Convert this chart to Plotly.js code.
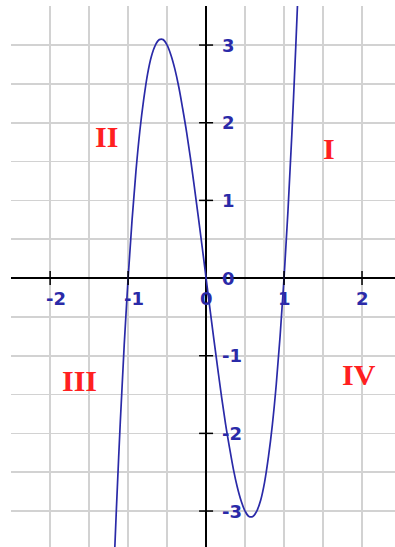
<!DOCTYPE html>
<html>
<head>
<meta charset="utf-8">
<script src="https://cdn.plot.ly/plotly-3.0.1.min.js"></script>
<style>
  html, body { margin: 0; padding: 0; background: #fff; }
  #chart { width: 395px; height: 547px; }
</style>
</head>
<body>
<div id="chart"></div>
<script>
// Points along the cubic curve (x, y)
const curveX = [-1.18, -1.15, -1.1, -1.05, -1.0, -0.95, -0.9, -0.85, -0.8, -0.75, -0.7, -0.65, -0.6, -0.55, -0.5,
  -0.45, -0.4, -0.35, -0.3, -0.25, -0.2, -0.15, -0.1, -0.05, 0, 0.05, 0.1, 0.15, 0.2, 0.25, 0.3, 0.35, 0.4,
  0.45, 0.5, 0.55, 0.6, 0.65, 0.7, 0.75, 0.8, 0.85, 0.9, 0.95, 1.0, 1.05, 1.1, 1.15, 1.18];
const curveY = [-3.70, -2.97, -1.85, -0.86, 0, 0.74, 1.37, 1.89, 2.30, 2.63, 2.86, 3.00, 3.07, 3.07, 3.00,
  2.87, 2.69, 2.46, 2.18, 1.88, 1.54, 1.17, 0.79, 0.40, 0, -0.40, -0.79, -1.17, -1.54, -1.88, -2.18, -2.46, -2.69,
  -2.87, -3.00, -3.07, -3.07, -3.00, -2.86, -2.63, -2.30, -1.89, -1.37, -0.74, 0, 0.86, 1.85, 2.97, 3.70];

// Axis ticks and their labels
const xTickVals = [-2, -1, 0, 1, 2];
const xTickText = ["-2", "-1", "0", "1", "2"];
const yTickVals = [-3, -2, -1, 0, 1, 2, 3];
const yTickText = ["-3", "-2", "-1", "0", "1", "2", "3"];

// Quadrant names and where they sit
const quadNames = ["I", "II", "III", "IV"];
const quadX = [1.574, -1.276, -1.62, 1.967];
const quadY = [1.674, 1.822, -1.313, -1.236];

const blue = "#2a2aa8";
const labelFont = { family: "DejaVu Sans", size: 18, color: blue, weight: "bold" };

const shapes = [];
xTickVals.forEach(v => {
  if (v === 0) return;
  shapes.push({ type: "line", xref: "x", yref: "y", x0: v, x1: v,
    ysizemode: "pixel", yanchor: 0, y0: -7, y1: 7,
    line: { color: "#000", width: 1.5 } });
});
yTickVals.forEach(v => {
  if (v === 0) return;
  shapes.push({ type: "line", xref: "x", yref: "y", y0: v, y1: v,
    xsizemode: "pixel", xanchor: 0, x0: -7, x1: 7,
    line: { color: "#000", width: 1.5 } });
});

const annotations = [];
xTickVals.forEach((v, i) => {
  annotations.push({ x: v, y: 0, xref: "x", yref: "y", text: xTickText[i], showarrow: false,
    xanchor: "center", yanchor: "middle", xshift: v < 0 ? 6 : 0, yshift: -20, font: labelFont });
});
yTickVals.forEach((v, i) => {
  annotations.push({ x: 0, y: v, xref: "x", yref: "y", text: yTickText[i], showarrow: false,
    xanchor: "left", yanchor: "middle", xshift: 14, yshift: 0, font: labelFont });
});
quadNames.forEach((t, i) => {
  annotations.push({ x: quadX[i], y: quadY[i], xref: "x", yref: "y", text: t, showarrow: false,
    xanchor: "center", yanchor: "middle",
    font: { family: "Liberation Serif", size: 30, color: "#ff2020", weight: "bold" } });
});

const trace = {
  x: curveX, y: curveY, type: "scatter", mode: "lines",
  line: { color: blue, width: 1.7, shape: "spline", smoothing: 1 },
  hoverinfo: "skip"
};

const layout = {
  width: 395, height: 547,
  margin: { l: 11, r: 0, t: 6, b: 0, pad: 0 },
  paper_bgcolor: "#fff", plot_bgcolor: "#fff",
  showlegend: false,
  xaxis: { range: [-2.502, 2.423], dtick: 0.5, tick0: 0, showticklabels: false, ticks: "",
    showgrid: true, gridcolor: "#d2d2d2", gridwidth: 1.6,
    zeroline: true, zerolinecolor: "#000", zerolinewidth: 1.6, showline: false, fixedrange: true },
  yaxis: { range: [-3.463, 3.503], dtick: 0.5, tick0: 0, showticklabels: false, ticks: "",
    showgrid: true, gridcolor: "#d2d2d2", gridwidth: 1.6,
    zeroline: true, zerolinecolor: "#000", zerolinewidth: 1.6, showline: false, fixedrange: true },
  shapes: shapes,
  annotations: annotations
};

Plotly.newPlot("chart", [trace], layout, { staticPlot: true, displayModeBar: false });
</script>
</body>
</html>
